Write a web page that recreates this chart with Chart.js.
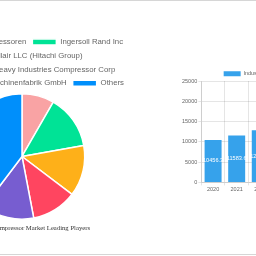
<!DOCTYPE html>
<html>
<head>
<meta charset="utf-8">
<script src="https://cdn.jsdelivr.net/npm/chart.js@4.4.1/dist/chart.umd.min.js"></script>
<style>
  html, body { margin:0; padding:0; background:#fff; }
  body { width:256px; height:256px; overflow:hidden; position:relative; }
  .line { position:absolute; left:0; width:256px; height:1px; background:#d6d6d6; }
  #pieWrap { position:absolute; left:-108px; top:32px; width:260px; height:204px; }
  #barWrap { position:absolute; left:181px; top:67px; width:209px; height:127px; }
</style>
</head>
<body>
<div class="line" style="top:0"></div>
<div class="line" style="top:254px"></div>
<div id="pieWrap"><canvas id="pie"></canvas></div>
<div id="barWrap"><canvas id="bar"></canvas></div>
<script>
const playerNames = ['Kaeser Kompressoren','Ingersoll Rand Inc','Sullair LLC (Hitachi Group)','Mitsubishi Heavy Industries Compressor Corp','Schneider Maschinenfabrik GmbH','Others'];
const playerShares = [8.3, 13.9, 13.1, 11.7, 13.3, 39.7];
const playerColors = ['#F9A3A4','#00E396','#FEB019','#FF4560','#775DD0','#008FFB'];
const pieTitle = 'Industrial Air Compressor Market Leading Players';

const years = ['2020','2021','2022','2023','2024','2025','2026','2027'];
const marketSize = [10456.3, 11583.6, 12832.0, 14215.6, 15748.3, 17446.2, 19327.3, 21411.3];
const barSeriesName = 'Industrial Air Compressor Market Revenue';
const yTicks = [0, 5000, 10000, 15000, 20000, 25000];

Chart.defaults.font.family = "'Liberation Sans', Arial, sans-serif";
Chart.defaults.color = '#666';

new Chart(document.getElementById('pie'), {
  type: 'pie',
  data: { labels: playerNames, datasets: [{ data: playerShares, backgroundColor: playerColors, borderColor: '#fff', borderWidth: 1.5 }] },
  options: {
    responsive: true, maintainAspectRatio: false, animation: false,
    layout: { padding: 0 },
    plugins: {
      legend: { position: 'top', maxHeight: 61, labels: { font: { size: 7.8 }, boxWidth: 24, boxHeight: 6, padding: 6, color: '#666' } },
      title: { display: true, position: 'bottom', text: pieTitle, color: '#333', font: { family: "'Liberation Serif', 'Times New Roman', serif", size: 6.7, weight: 'normal' }, padding: { top: 4, bottom: 4 } },
      tooltip: { enabled: false }
    }
  }
});

const barValueLabels = {
  id: 'barValueLabels',
  afterDatasetsDraw(chart) {
    const ctx = chart.ctx;
    const meta = chart.getDatasetMeta(0);
    const vals = chart.data.datasets[0].data;
    ctx.save();
    ctx.fillStyle = '#fff';
    ctx.font = "5.6px 'Liberation Sans', Arial, sans-serif";
    ctx.textAlign = 'center';
    ctx.textBaseline = 'middle';
    meta.data.forEach((bar, i) => {
      ctx.fillText(vals[i].toFixed(1), bar.x, (bar.y + bar.base) / 2);
    });
    ctx.restore();
  }
};

new Chart(document.getElementById('bar'), {
  type: 'bar',
  data: { labels: years, datasets: [{ label: barSeriesName, data: marketSize, backgroundColor: 'rgb(54,162,235)' }] },
  options: {
    responsive: true, maintainAspectRatio: false, animation: false,
    layout: { padding: 0 },
    scales: {
      x: { grid: { tickLength: 3 }, ticks: { font: { size: 5.5 }, padding: 1 } },
      y: { min: yTicks[0], max: yTicks[yTicks.length - 1], afterBuildTicks: (s) => { s.ticks = yTicks.map(v => ({ value: v })); },
           grid: { tickLength: 3 }, ticks: { font: { size: 5.5 }, padding: 1, callback: (v) => String(v) } }
    },
    plugins: {
      legend: { position: 'top', maxHeight: 14, labels: { font: { size: 5.5 }, boxWidth: 17, boxHeight: 5, padding: 4 } },
      tooltip: { enabled: false }
    }
  },
  plugins: [barValueLabels]
});
</script>
</body>
</html>
